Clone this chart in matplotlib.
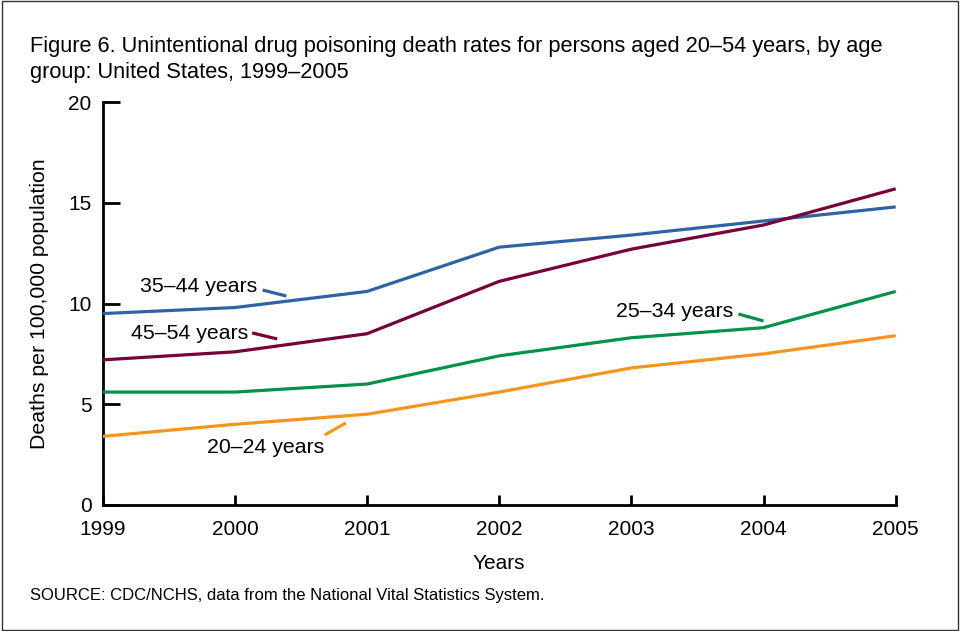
import matplotlib.pyplot as plt
from matplotlib.patches import Rectangle

plt.rcParams['font.family'] = ['Liberation Sans', 'DejaVu Sans']

years = [1999, 2000, 2001, 2002, 2003, 2004, 2005]
age_35_44 = [9.5, 9.8, 10.6, 12.8, 13.4, 14.1, 14.8]
age_45_54 = [7.2, 7.6, 8.5, 11.1, 12.7, 13.9, 15.7]
age_25_34 = [5.6, 5.6, 6.0, 7.4, 8.3, 8.8, 10.6]
age_20_24 = [3.4, 4.0, 4.5, 5.6, 6.8, 7.5, 8.4]
y_ticks = [0, 5, 10, 15, 20]

fig = plt.figure(figsize=(9.6, 6.31), dpi=100)
ax = fig.add_axes([0.107, 0.2, 0.826, 0.638])

series = [
    (age_35_44, '#2E63A8', '35\u201344 years', (2000.17, 10.57), 'right', [(2000.21, 2000.39), (10.67, 10.37)]),
    (age_45_54, '#770039', '45\u201354 years', (2000.10, 8.24), 'right', [(2000.13, 2000.32), (8.54, 8.24)]),
    (age_25_34, '#00924A', '25\u201334 years', (2002.88, 9.33), 'left', [(2003.81, 2004.0), (9.48, 9.13)]),
    (age_20_24, '#F7941E', '20\u201324 years', (1999.79, 2.58), 'left', [(2000.68, 2000.84), (3.47, 4.07)]),
]
for vals, col, name, pos, ha, lead in series:
    ax.plot(years, vals, color=col, lw=2.3, solid_capstyle='butt', zorder=3)
    ax.plot(lead[0], lead[1], color=col, lw=2.3, solid_capstyle='butt')
    ax.text(pos[0], pos[1], name, ha=ha, va='baseline', fontsize=15.3)

ax.set_xlim(1999, 2005)
ax.set_ylim(0, 20)
ax.set_xticks(years)
ax.set_yticks(y_ticks)
ax.tick_params(axis='y', direction='in', length=12, width=2, pad=8, labelsize=15)
ax.tick_params(axis='x', direction='in', length=7, width=2, pad=11, labelsize=15)
for s in ['top', 'right']:
    ax.spines[s].set_visible(False)
for s in ['left', 'bottom']:
    ax.spines[s].set_linewidth(2)
ax.set_ylabel('Deaths per 100,000 population', fontsize=15.3, labelpad=14)
ax.set_xlabel('Years', fontsize=15, labelpad=11)

fig.text(0.031, 0.918, 'Figure 6. Unintentional drug poisoning death rates for persons aged 20\u201354 years, by age',
         fontsize=15.7, va='baseline')
fig.text(0.031, 0.877, 'group: United States, 1999\u20132005', fontsize=15.7, va='baseline')
fig.text(0.031, 0.049, 'SOURCE: CDC/NCHS, data from the National Vital Statistics System.', fontsize=12, va='baseline')

fig.patches.append(Rectangle((0.002, 0.002), 0.996, 0.996, transform=fig.transFigure,
                             fill=False, edgecolor='#333333', lw=1))

fig.savefig('out.png', dpi=100)
